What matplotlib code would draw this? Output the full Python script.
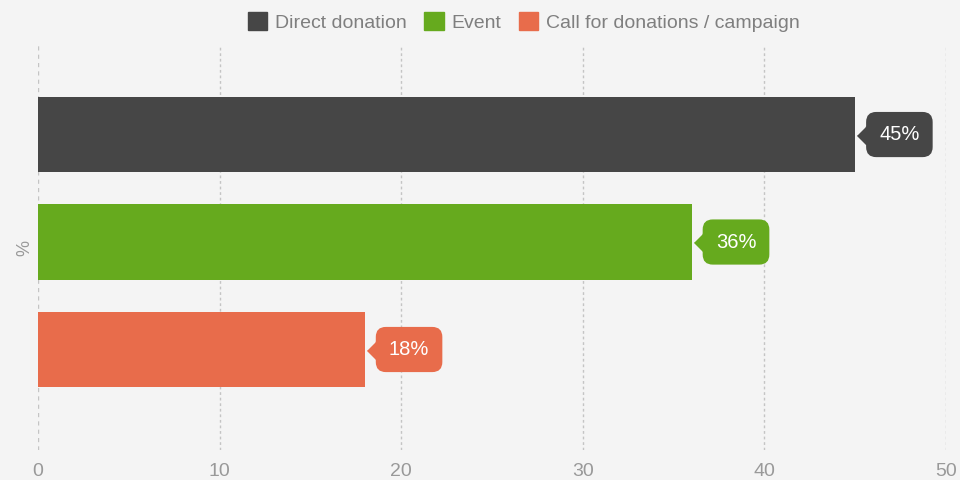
import matplotlib.pyplot as plt
import matplotlib.patches as mpatches
import matplotlib.transforms as mtransforms

plt.rcParams['font.family'] = ['Liberation Sans', 'DejaVu Sans']

# data
series = ['Direct donation', 'Event', 'Call for donations / campaign']
values = [45, 36, 18]
colors = ['#464646', '#66aa1e', '#e86c4b']
x_ticks = [0, 10, 20, 30, 40, 50]

bg = '#f4f4f4'
fig = plt.figure(figsize=(9.6, 4.8), dpi=100, facecolor=bg)
ax = fig.add_axes([38 / 960, 1 - 450 / 480, (946 - 38) / 960, (450 - 45) / 480])
ax.set_facecolor(bg)

pos = list(range(len(values)))
ax.barh(pos, values, height=0.7, color=colors, zorder=3)
ax.set_ylim(2 + 0.935, -0.833)
ax.set_xlim(0, 50)

# grid
for t in x_ticks:
    ax.axvline(t, color='#c4c4c4', lw=1, ls=(0, (3, 3)) if t == 0 else (0, (2, 2)), zorder=1)

ax.set_xticks(x_ticks)
ax.set_yticks([])
ax.tick_params(axis='x', length=0, pad=9, labelsize=14, labelcolor='#999999')
for s in ax.spines.values():
    s.set_visible(False)

ax.set_ylabel('%', fontsize=13, color='#999999', labelpad=3)

# value callouts
tri = mtransforms.offset_copy(ax.transData, fig=fig, x=2, y=0, units='dots')
for p, v, c in zip(pos, values, colors):
    ax.plot(v, p, marker=[(0, 0), (1, -1), (1, 1)], markersize=13,
            color=c, transform=tri, zorder=4, clip_on=False)
    ax.annotate(f'{v}%', xy=(v, p), xytext=(24, 0), textcoords='offset pixels',
                ha='left', va='center', color='white', fontsize=14.5,
                bbox=dict(boxstyle='round,pad=0.65,rounding_size=0.5', fc=c, ec='none'),
                zorder=5)

handles = [mpatches.Patch(color=c, label=s) for s, c in zip(series, colors)]
leg = fig.legend(handles=handles, loc='center', bbox_to_anchor=(524 / 960, 1 - 22 / 480),
                 ncol=3, frameon=False, fontsize=14, handlelength=1.0, handleheight=1.0,
                 handletextpad=0.4, columnspacing=0.9)
for t in leg.get_texts():
    t.set_color('#7f7f7f')

plt.savefig('out.png', dpi=100, facecolor=bg)
